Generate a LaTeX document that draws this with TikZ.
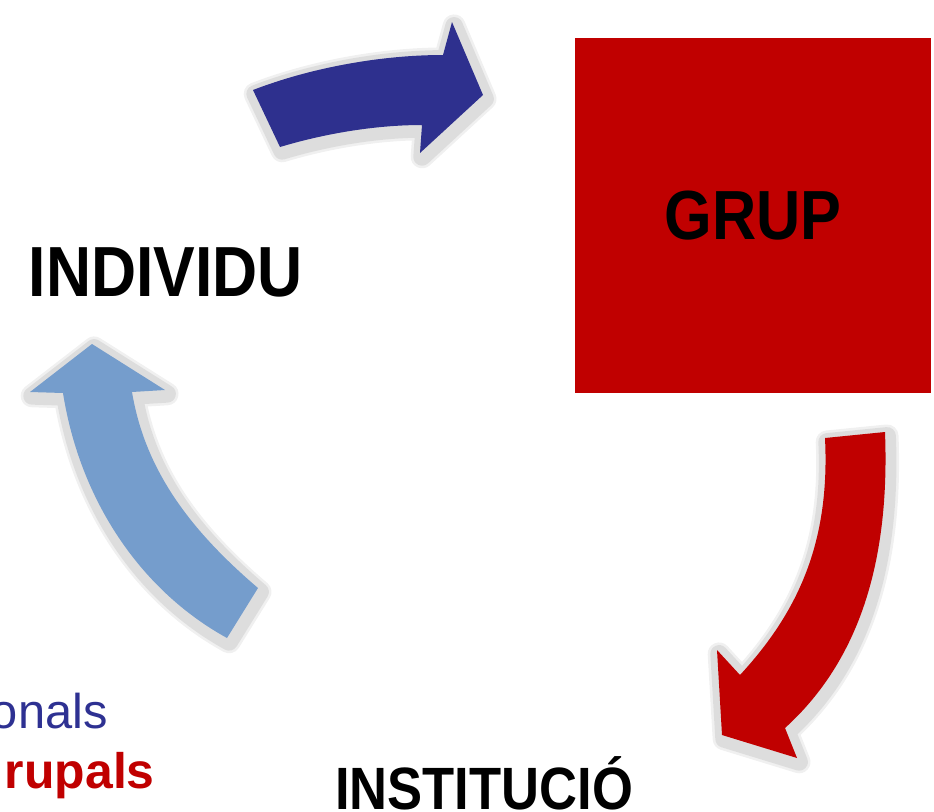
\documentclass[tikz,border=0pt]{standalone}
\usepackage{fontspec}
\setmainfont{Liberation Sans}[FakeStretch=0.88]
\newfontfamily\plainsans{Liberation Sans}
\definecolor{grupred}{RGB}{192,0,0}
\definecolor{textblue}{RGB}{46,49,146}
\definecolor{arrowblue}{RGB}{46,48,142}
\definecolor{arrowlight}{RGB}{117,157,204}

\begin{document}
\begin{tikzpicture}[x=0.02cm,y=-0.02cm,
   titletext/.style={font=\bfseries\fontsize{#1}{#1}\selectfont,inner sep=0pt},
   softshadow/.style={draw=black,draw opacity=#1,line join=round},
   blockarrow/.style={fill=#1,line join=round,preaction={draw=white,line width=9pt,line join=round}}]
\useasboundingbox (0,0) rectangle (934,812);
\node[fill=grupred,minimum width=7.12cm,minimum height=7.1cm,titletext=39.6] (grup) at (753,215.5) {GRUP};
\node[titletext=40.4] (individu) at (166,272.5) {INDIVIDU};
\node[titletext=34,anchor=base] (institucio) at (484,809) {INSTITUCIÓ};
\node[font=\plainsans\fontsize{27.8}{30}\selectfont,text=textblue,anchor=base east,inner sep=0pt] (personals) at (108,728) {onals};
\node[font=\plainsans\bfseries\fontsize{28.4}{30}\selectfont,text=grupred,anchor=base east,inner sep=0pt] (grupals) at (155,788) {rupals};

\path[save path=\darkpath] (253,90) -- (280,147) .. controls (330,132) and (380,125) .. (422,125)
   -- (420,153) -- (483,95) -- (452,22) -- (443,55) .. controls (380,55) and (310,68) .. (253,90) -- cycle;
\path[save path=\redpath] (825,438) -- (885,432) .. controls (890,560) and (860,660) .. (785,728)
   -- (797,758) -- (722,735) -- (717,650) -- (740,675) .. controls (800,610) and (830,540) .. (825,438) -- cycle;
\path[save path=\lightpath] (92,344) -- (30,392) -- (63,393) .. controls (80,500) and (140,590) .. (227,638)
   -- (258,588) .. controls (190,530) and (145,470) .. (132,392) -- (165,390) -- cycle;

\begin{scope}[transform canvas={xshift=1.2pt,yshift=-2.2pt}]
\path[use path=\darkpath,softshadow=0.06,line width=13pt];
\path[use path=\darkpath,softshadow=0.08,line width=10pt];
\path[use path=\redpath,softshadow=0.06,line width=13pt];
\path[use path=\redpath,softshadow=0.08,line width=10pt];
\path[use path=\lightpath,softshadow=0.06,line width=13pt];
\path[use path=\lightpath,softshadow=0.08,line width=10pt];
\end{scope}

\path[use path=\darkpath,blockarrow=arrowblue];
\path[use path=\redpath,blockarrow=grupred];
\path[use path=\lightpath,blockarrow=arrowlight];
\end{tikzpicture}
\end{document}
